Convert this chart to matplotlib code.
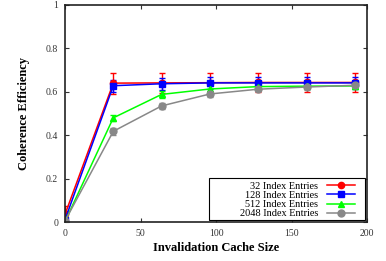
import matplotlib
matplotlib.use("Agg")
import matplotlib.pyplot as plt
from matplotlib.lines import Line2D
from matplotlib.patches import Rectangle

plt.rcParams['font.family'] = ['Liberation Serif', 'DejaVu Serif']

x = [0, 32, 64, 96, 128, 160, 192]
labels = ["32 Index Entries", "128 Index Entries", "512 Index Entries", "2048 Index Entries"]
y32 = [0.035, 0.640, 0.641, 0.642, 0.643, 0.643, 0.643]
e32 = [0.040, 0.048, 0.045, 0.044, 0.044, 0.044, 0.044]
y128 = [0.010, 0.628, 0.637, 0.641, 0.641, 0.641, 0.641]
e128 = [0.040, 0.028, 0.027, 0.026, 0.026, 0.026, 0.026]
y512 = [0.002, 0.480, 0.588, 0.613, 0.624, 0.626, 0.627]
e512 = [0.010, 0.015, 0.015, 0.012, 0.012, 0.012, 0.012]
y2048 = [0.005, 0.418, 0.535, 0.590, 0.612, 0.622, 0.630]
e2048 = [0.010, 0.015, 0.012, 0.012, 0.010, 0.010, 0.010]

series = [y32, y128, y512, y2048]
errs = [e32, e128, e512, e2048]
colors = ["#ff0000", "#0000ff", "#00ff00", "#888888"]
markers = ["o", "s", "^", "o"]
msizes = [4.5, 5, 5, 5]

fig = plt.figure(figsize=(3.86, 2.61), dpi=100)
ax = fig.add_axes([65/386, 1 - 222/261, (367 - 65)/386, (222 - 5)/261])

handles = []
for ys, es, c, m, ms, lab in zip(series, errs, colors, markers, msizes, labels):
    ax.errorbar(x, ys, yerr=es, color=c, marker=m, markersize=ms, lw=1.1,
                elinewidth=1.0, capsize=2, capthick=1.0)
    handles.append(Line2D([], [], color=c, marker=m, markersize=ms, lw=1.1, label=lab))

ax.set_xlim(0, 200)
ax.set_ylim(0, 1)
ax.set_xticks([0, 50, 100, 150, 200])
ax.set_yticks([0, 0.2, 0.4, 0.6, 0.8, 1])
ax.set_yticklabels(["0", "0.2", "0.4", "0.6", "0.8", "1"])
ax.tick_params(direction='in', top=True, right=True, length=3, width=0.8,
               labelsize=7, colors='#333333', labelcolor='#333333', pad=5)
for s in ax.spines.values():
    s.set_linewidth(1.2)
    s.set_color('#222222')

ax.set_xlabel("Invalidation Cache Size", fontsize=9, fontweight='bold', labelpad=3)
ax.set_ylabel("Coherence Efficiency", fontsize=9, fontweight='bold', labelpad=11)

# legend frame (gnuplot style: wide box, right-aligned entries)
fx0 = (209 - 65) / 302
fx1 = (365 - 65) / 302
fy0 = (222 - 220) / 217
fy1 = (222 - 178) / 217
ax.add_patch(Rectangle((fx0, fy0), fx1 - fx0, fy1 - fy0, transform=ax.transAxes,
                       facecolor='white', edgecolor='black', lw=0.8, zorder=4.9))

leg = ax.legend(handles=handles, loc='lower right',
                bbox_to_anchor=((357 - 65) / 302, fy0), borderaxespad=0,
                markerfirst=False, fontsize=7.4, frameon=False,
                borderpad=0.15, labelspacing=0.0, handlelength=2.8, handletextpad=0.8)
leg.set_zorder(5)

fig.savefig("out.png", dpi=100)
